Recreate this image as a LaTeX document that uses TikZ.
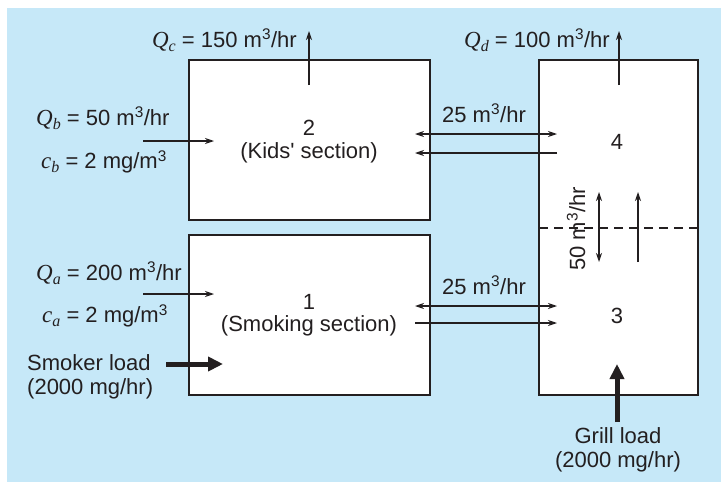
\documentclass[tikz,border=0pt]{standalone}
\usepackage{fontspec}
\setmainfont{Liberation Sans}
\newfontfamily\serit{Liberation Serif}
\usetikzlibrary{arrows.meta}
\definecolor{bgblue}{RGB}{198,232,248}
\definecolor{ink}{RGB}{35,31,32}
\newcommand{\qv}[2]{{\serit\itshape\fontsize{23}{24}\selectfont #1}\raisebox{-0.35ex}{\serit\itshape\fontsize{16}{16}\selectfont #2}}
\newcommand{\cub}{\textsuperscript{3}}
\begin{document}
\begin{tikzpicture}[x=1pt,y=-1pt,
  every node/.style={text=ink,font=\fontsize{22}{24}\selectfont,inner sep=0pt},
  room/.style={draw=ink,line width=1.4pt,fill=white},
  flow/.style={draw=ink,line width=1.1pt,-{Stealth[length=9pt,width=6pt]}},
  twoway/.style={draw=ink,line width=1.1pt,{Stealth[length=9pt,width=6pt]}-{Stealth[length=9pt,width=6pt]}},
  load/.style={draw=ink,line width=5pt,-{Triangle[length=15pt,width=14pt]}}]
\useasboundingbox (0,0) rectangle (721,482);
\fill[bgblue] (7,8) rectangle (721,482);
% rooms
\draw[room] (189,60) rectangle (430,220);
\draw[room] (189,235) rectangle (430,395);
\draw[room] (539,60) rectangle (698,395);
\draw[ink,dashed,dash pattern=on 9pt off 6pt,line width=1.1pt] (539,228) -- (698,228);
% room labels
\node (n2) at (309,128) {2};
\node (k2) at (309,153) {(Kids\textquotesingle\ section)};
\node (n1) at (309,302) {1};
\node (k1) at (309,326) {(Smoking section)};
\node (n4) at (617,142) {4};
\node (n3) at (617,316) {3};
% outflows
\coordinate (qcs) at (309,85); \coordinate (qce) at (309,31);
\draw[flow] (qcs) -- (qce);
\node[anchor=east] (qc) at (297,40) {\qv{Q}{c} = 150 m\cub/hr};
\coordinate (qds) at (619,85); \coordinate (qde) at (619,31);
\draw[flow] (qds) -- (qde);
\node[anchor=east] (qd) at (610,40) {\qv{Q}{d} = 100 m\cub/hr};
% inflows
\coordinate (qbs) at (143,141); \coordinate (qbe) at (214,141);
\draw[flow] (qbs) -- (qbe);
\node[anchor=west] (qb) at (36,118) {\qv{Q}{b} = 50 m\cub/hr};
\node[anchor=west] (cb) at (41,162) {\qv{c}{b} = 2 mg/m\cub};
\coordinate (qas) at (143,294); \coordinate (qae) at (214,294);
\draw[flow] (qas) -- (qae);
\node[anchor=west] (qa) at (36,273) {\qv{Q}{a} = 200 m\cub/hr};
\node[anchor=west] (ca) at (42,316) {\qv{c}{a} = 2 mg/m\cub};
% exchange 2-4
\coordinate (a24) at (415,134); \coordinate (b24) at (557,134);
\coordinate (c24) at (557,153); \coordinate (d24) at (415,153);
\draw[twoway] (a24) -- (b24);
\draw[flow] (c24) -- (d24);
\node (l24) at (484,113) {25 m\cub/hr};
% exchange 1-3
\coordinate (a13) at (415,306); \coordinate (b13) at (557,306);
\coordinate (c13) at (415,323); \coordinate (d13) at (557,323);
\draw[twoway] (a13) -- (b13);
\draw[flow] (c13) -- (d13);
\node (l13) at (484,285) {25 m\cub/hr};
% exchange 3-4
\coordinate (a34) at (599,192); \coordinate (b34) at (599,262);
\coordinate (c34) at (638,262); \coordinate (d34) at (638,192);
\draw[twoway] (a34) -- (b34);
\draw[flow] (c34) -- (d34);
\node[rotate=90] (l34) at (576,229) {50 m\cub/hr};
% loads
\coordinate (sls) at (166,364); \coordinate (sle) at (223,364);
\draw[load] (sls) -- (sle);
\node[anchor=west,align=left] (sl) at (27,377) {Smoker load\\(2000 mg/hr)};
\coordinate (gls) at (617,422); \coordinate (gle) at (617,364);
\draw[load] (gls) -- (gle);
\node[align=center] (gl) at (618,450) {Grill load\\(2000 mg/hr)};
\end{tikzpicture}
\end{document}
